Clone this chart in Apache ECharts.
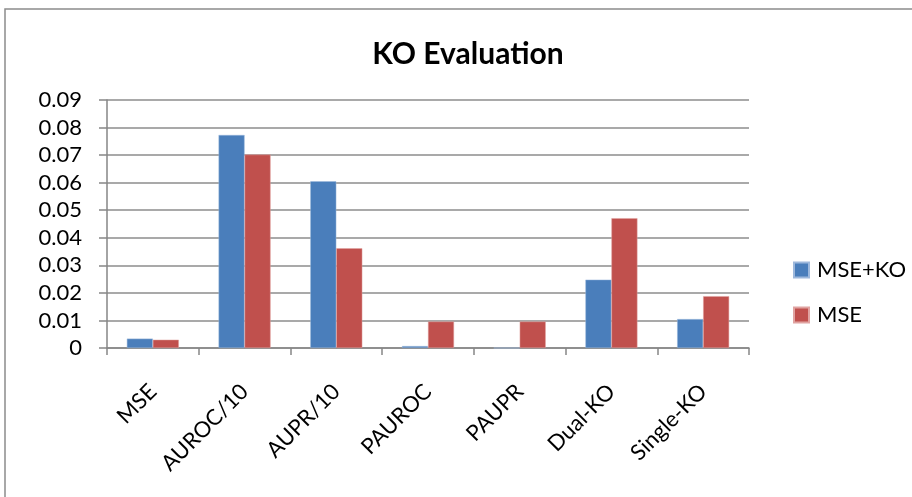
<!DOCTYPE html>
<html><head><meta charset="utf-8">
<script src="https://cdn.jsdelivr.net/npm/echarts@6/dist/echarts.min.js"></script>
<style>html,body{margin:0;padding:0;background:#fff}#c{width:912px;height:497px}</style>
</head><body><div id="c"></div>
<script>
const categories = ["MSE","AUROC/10","AUPR/10","PAUROC","PAUPR","Dual-KO","Single-KO"];
const mseKo = [0.0034,0.0773,0.0605,0.0007,0,0.0248,0.0105];
const mse = [0.0030,0.0702,0.0362,0.0096,0.0096,0.0471,0.0188];
const yTicks = [0,0.01,0.02,0.03,0.04,0.05,0.06,0.07,0.08,0.09];
const FONT = 'Lato, "Open Sans", sans-serif';
const chart = echarts.init(document.getElementById('c'));
chart.setOption({
  animation:false,
  backgroundColor:'#fff',
  graphic:[{type:'rect',shape:{x:5,y:9,width:920,height:500},style:{fill:'none',stroke:'#8c8c8c',lineWidth:1.5},silent:true}],
  title:{text:'KO Evaluation',left:463,textAlign:'center',top:34,textStyle:{fontFamily:FONT,fontWeight:'bold',fontSize:30,color:'#000'}},
  legend:{orient:'vertical',left:788,top:254,itemWidth:15,itemHeight:15,itemGap:23,icon:'rect',
    textStyle:{fontFamily:FONT,fontSize:22,lineHeight:22,color:'#000',padding:[0,0,0,3]},data:['MSE+KO','MSE']},
  grid:{left:107,right:163,top:100,bottom:149},
  xAxis:{type:'category',data:categories,
    axisLine:{lineStyle:{color:'#868686',width:1.5}},
    axisTick:{show:true,length:7,lineStyle:{color:'#868686',width:1.5}},
    axisLabel:{rotate:45,margin:40,fontFamily:FONT,fontSize:22,color:'#000'}},
  yAxis:{type:'value',min:0,max:0.09,interval:0.01,
    axisLine:{show:true,lineStyle:{color:'#868686',width:1.5}},
    axisTick:{show:true,length:8,inside:false,lineStyle:{color:'#868686',width:1.5}},
    splitLine:{lineStyle:{color:'#8c8c8c',width:1.5}},
    axisLabel:{margin:25,fontFamily:FONT,fontSize:22,color:'#000',
      formatter:v=>{const t=yTicks.find(x=>Math.abs(x-v)<1e-9);return t===0?'0':(t!==undefined?t.toFixed(2):'');}}},
  series:[
    {name:'MSE+KO',type:'bar',data:mseKo,barWidth:26,barGap:'0%',itemStyle:{color:'#4A7EBB',borderColor:'#9db8dc',borderWidth:0.5}},
    {name:'MSE',type:'bar',data:mse,barWidth:26,barGap:'0%',itemStyle:{color:'#C0504D',borderColor:'#e0a3a1',borderWidth:0.5}}
  ]
});
</script></body></html>
